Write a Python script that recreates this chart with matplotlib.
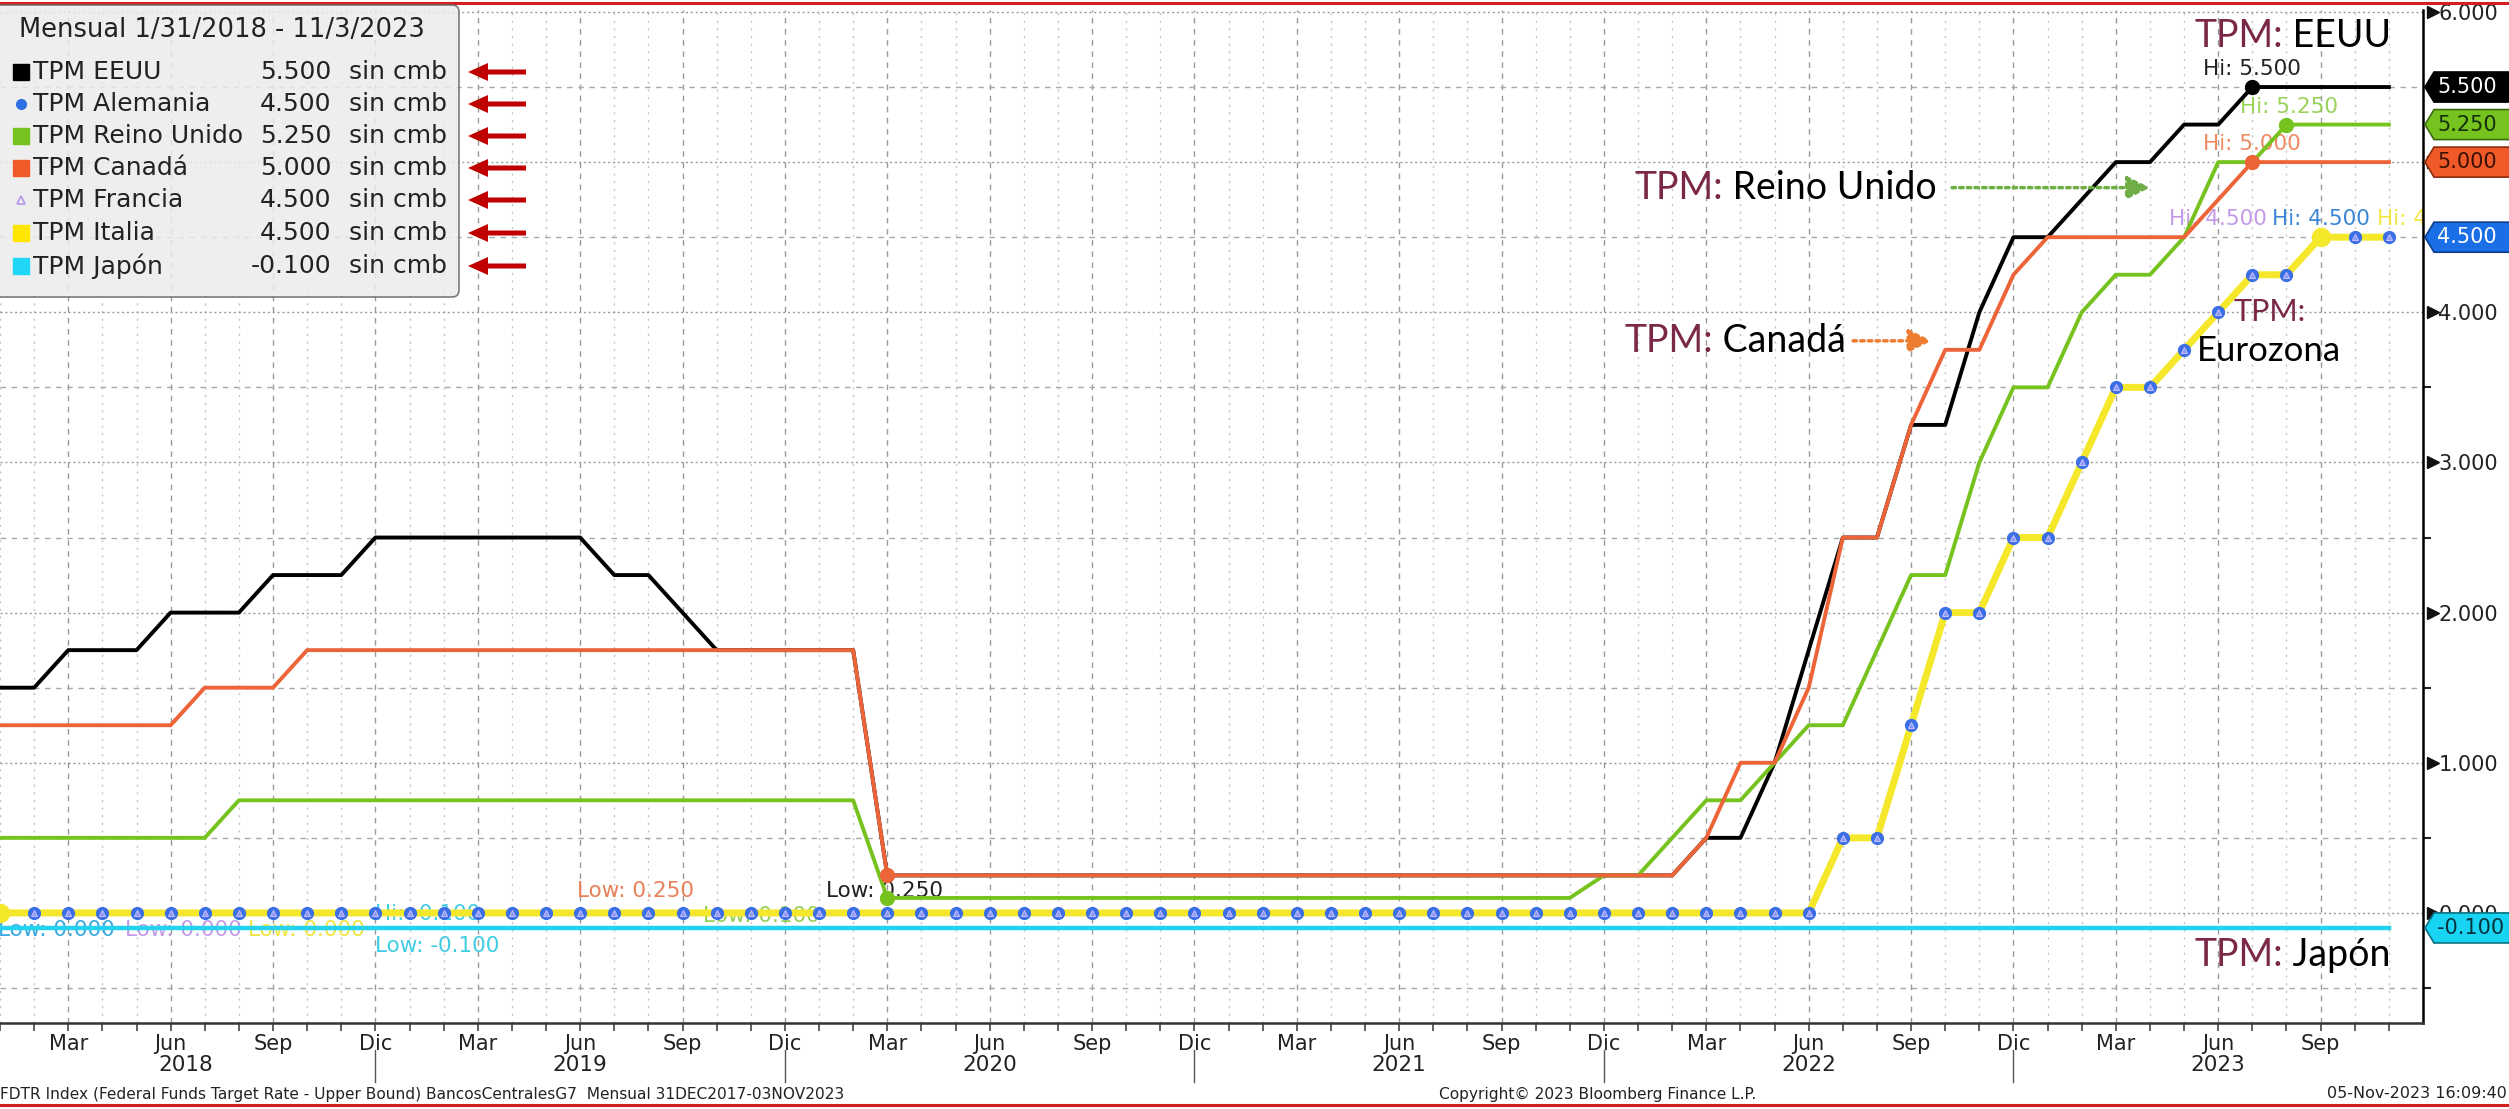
import numpy as np
import matplotlib.pyplot as plt
from matplotlib.patches import FancyBboxPatch, Polygon, FancyArrow
from matplotlib.lines import Line2D
from matplotlib.transforms import IdentityTransform

W, H = 2509, 1109
plt.rcParams['font.family'] = ['DejaVu Sans']

# ---------------- datos: TPM fin de mes, ene-2018 ... nov-2023 ----------------
tpm_eeuu = [1.50, 1.50, 1.75, 1.75, 1.75, 2.00, 2.00, 2.00, 2.25, 2.25, 2.25, 2.50,
            2.50, 2.50, 2.50, 2.50, 2.50, 2.50, 2.25, 2.25, 2.00, 1.75, 1.75, 1.75,
            1.75, 1.75, 0.25, 0.25, 0.25, 0.25, 0.25, 0.25, 0.25, 0.25, 0.25, 0.25,
            0.25, 0.25, 0.25, 0.25, 0.25, 0.25, 0.25, 0.25, 0.25, 0.25, 0.25, 0.25,
            0.25, 0.25, 0.50, 0.50, 1.00, 1.75, 2.50, 2.50, 3.25, 3.25, 4.00, 4.50,
            4.50, 4.75, 5.00, 5.00, 5.25, 5.25, 5.50, 5.50, 5.50, 5.50, 5.50]
tpm_canada = [1.25, 1.25, 1.25, 1.25, 1.25, 1.25, 1.50, 1.50, 1.50, 1.75, 1.75, 1.75,
              1.75, 1.75, 1.75, 1.75, 1.75, 1.75, 1.75, 1.75, 1.75, 1.75, 1.75, 1.75,
              1.75, 1.75, 0.25, 0.25, 0.25, 0.25, 0.25, 0.25, 0.25, 0.25, 0.25, 0.25,
              0.25, 0.25, 0.25, 0.25, 0.25, 0.25, 0.25, 0.25, 0.25, 0.25, 0.25, 0.25,
              0.25, 0.25, 0.50, 1.00, 1.00, 1.50, 2.50, 2.50, 3.25, 3.75, 3.75, 4.25,
              4.50, 4.50, 4.50, 4.50, 4.50, 4.75, 5.00, 5.00, 5.00, 5.00, 5.00]
tpm_reino_unido = [0.50, 0.50, 0.50, 0.50, 0.50, 0.50, 0.50, 0.75, 0.75, 0.75, 0.75, 0.75,
                   0.75, 0.75, 0.75, 0.75, 0.75, 0.75, 0.75, 0.75, 0.75, 0.75, 0.75, 0.75,
                   0.75, 0.75, 0.10, 0.10, 0.10, 0.10, 0.10, 0.10, 0.10, 0.10, 0.10, 0.10,
                   0.10, 0.10, 0.10, 0.10, 0.10, 0.10, 0.10, 0.10, 0.10, 0.10, 0.10, 0.25,
                   0.25, 0.50, 0.75, 0.75, 1.00, 1.25, 1.25, 1.75, 2.25, 2.25, 3.00, 3.50,
                   3.50, 4.00, 4.25, 4.25, 4.50, 5.00, 5.00, 5.25, 5.25, 5.25, 5.25]
tpm_alemania = [0.00, 0.00, 0.00, 0.00, 0.00, 0.00, 0.00, 0.00, 0.00, 0.00, 0.00, 0.00,
                0.00, 0.00, 0.00, 0.00, 0.00, 0.00, 0.00, 0.00, 0.00, 0.00, 0.00, 0.00,
                0.00, 0.00, 0.00, 0.00, 0.00, 0.00, 0.00, 0.00, 0.00, 0.00, 0.00, 0.00,
                0.00, 0.00, 0.00, 0.00, 0.00, 0.00, 0.00, 0.00, 0.00, 0.00, 0.00, 0.00,
                0.00, 0.00, 0.00, 0.00, 0.00, 0.00, 0.50, 0.50, 1.25, 2.00, 2.00, 2.50,
                2.50, 3.00, 3.50, 3.50, 3.75, 4.00, 4.25, 4.25, 4.50, 4.50, 4.50]
tpm_francia = list(tpm_alemania)
tpm_italia = list(tpm_alemania)
tpm_japon = [-0.10] * 71

meses_trim = ['Mar', 'Jun', 'Sep', 'Dic']
anios = ['2018', '2019', '2020', '2021', '2022', '2023']
pos_anios = [5.45, 17, 29, 41, 53, 65]

leyenda = [('TPM EEUU', '5.500', '#000000', 's'),
           ('TPM Alemania', '4.500', '#2f6fe4', 'o'),
           ('TPM Reino Unido', '5.250', '#76c21e', 's'),
           ('TPM Canadá', '5.000', '#f05a28', 's'),
           ('TPM Francia', '4.500', '#b89ce8', '^'),
           ('TPM Italia', '4.500', '#ffe600', 's'),
           ('TPM Japón', '-0.100', '#1fd6f5', 's')]

C_EEUU, C_ALE, C_RU, C_CAN = '#000000', '#3b6fe6', '#76c21e', '#ec6437'
C_FRA, C_ITA, C_JAP = '#b89ce8', '#f5e82a', '#22d2ee'
MARRON = '#7a2748'

x = np.arange(len(tpm_eeuu))


def fx(px):
    return px / W


def fy(py):
    return 1 - py / H


fig = plt.figure(figsize=(W / 100, H / 100), dpi=100)
ax = fig.add_axes([0, 1 - 1023 / H, 2423 / W, 1013 / H])
ax.set_xlim(0.158, 71.0)
ax.set_ylim(-0.733, 6.013)

# ---------------- series ----------------
ax.plot(x, tpm_japon, color=C_JAP, lw=3.2, zorder=3)
ax.plot(x, tpm_francia, color=C_FRA, lw=1.5, zorder=3.1)
ax.plot(x, tpm_italia, color=C_ITA, lw=5, zorder=3.2)
ax.plot(x, tpm_alemania, ls='none', marker='o', ms=8.5, color=C_ALE, zorder=3.3)
ax.plot(x, tpm_francia, ls='none', marker='^', ms=4.5, mfc='#7d9cf7', mec='#c9b8ff', mew=0.8, zorder=3.4)
ax.plot(x, tpm_eeuu, color=C_EEUU, lw=2.8, zorder=3.5)
ax.plot(x, tpm_reino_unido, color=C_RU, lw=2.8, zorder=3.6)
ax.plot(x, tpm_canada, color=C_CAN, lw=2.8, zorder=3.7)

# puntos de maximos / minimos
i_hi_eeuu = int(np.argmax(tpm_eeuu))
i_hi_ru = int(np.argmax(tpm_reino_unido))
i_hi_can = int(np.argmax(tpm_canada))
i_hi_ita = int(np.argmax(tpm_italia))
ax.plot(x[i_hi_eeuu], tpm_eeuu[i_hi_eeuu], 'o', color=C_EEUU, ms=10, zorder=6)
ax.plot(x[i_hi_ru], tpm_reino_unido[i_hi_ru], 'o', color=C_RU, ms=10, zorder=6)
ax.plot(x[i_hi_can], tpm_canada[i_hi_can], 'o', color=C_CAN, ms=10, zorder=6)
ax.plot(x[i_hi_ita], tpm_italia[i_hi_ita], 'o', color=C_ITA, ms=13, zorder=6)
ax.plot(x[26], tpm_canada[26], 'o', color=C_CAN, ms=10, zorder=6)
ax.plot(x[26], tpm_reino_unido[26], 'o', color=C_RU, ms=10, zorder=6)
ax.plot(x[0], tpm_italia[0], 'o', color=C_ITA, ms=13, zorder=6)

# etiquetas Hi / Low (posiciones en meses y tasa)
etiquetas_hi = [('Hi: 5.500', 66.0, 5.62, '#222222', 'center'),
                ('Hi: 5.250', 67.06, 5.37, '#9bd35a', 'center'),
                ('Hi: 5.000', 66.0, 5.12, '#ef8a63', 'center'),
                ('Hi: 4.500', 65.0, 4.62, '#c49ae8', 'center'),
                ('Hi: 4.500', 68.0, 4.62, '#3d86d6', 'center'),
                ('Hi: 4.500', 69.66, 4.62, '#f2e640', 'left')]
etiquetas_low = [('Low: 0.000', -0.05, -0.113, '#3aa7e0'),
                 ('Low: 0.000', 3.67, -0.113, '#c49ae8'),
                 ('Low: 0.000', 7.26, -0.113, '#f2e640'),
                 ('Hi: -0.100', 11.0, -0.005, '#40cde3'),
                 ('Low: -0.100', 11.0, -0.22, '#40cde3'),
                 ('Low: 0.250', 16.9, 0.147, '#e8805c'),
                 ('Low: 0.100', 20.6, -0.02, '#95cf55'),
                 ('Low: 0.250', 24.2, 0.147, '#222222')]
for txt, xi, yi, col, ha in etiquetas_hi:
    ax.text(xi, yi, txt, color=col, fontsize=15.5, ha=ha, va='center', zorder=2.5, clip_on=True)
for txt, xi, yi, col in etiquetas_low:
    ax.text(xi, yi, txt, color=col, fontsize=15.5, ha='left', va='center', zorder=2.5, clip_on=True)


# etiquetas grandes
def etiqueta(xi, yi, resto, size=27):
    t = ax.text(xi, yi, 'TPM:', color=MARRON, fontsize=size, family='Lato', ha='left', va='center', zorder=8)
    ax.annotate(' ' + resto, xy=(1, 0.5), xycoords=t, color='black', fontsize=size, family='Lato',
                ha='left', va='center', zorder=8)


etiqueta(64.3, 5.84, 'EEUU')
etiqueta(47.9, 4.83, 'Reino Unido')
etiqueta(47.6, 3.81, 'Canadá')
etiqueta(64.3, -0.28, 'Japón')
ax.text(66.5, 4.0, 'TPM:', color=MARRON, fontsize=22, family='Lato', ha='center', va='center', zorder=8)
ax.text(66.5, 3.74, 'Eurozona', color='black', fontsize=25, family='Lato', ha='center', va='center', zorder=8)
ax.annotate('', xy=(63.0, 4.83), xytext=(57.2, 4.83), zorder=8,
            arrowprops=dict(arrowstyle='-|>,head_length=0.7,head_width=0.35', color='#70ad47',
                            lw=2.5, ls=(0, (1, 1.2)), shrinkA=0, shrinkB=0, mutation_scale=20))
ax.annotate('', xy=(56.6, 3.81), xytext=(54.3, 3.81), zorder=8,
            arrowprops=dict(arrowstyle='-|>,head_length=0.7,head_width=0.35', color='#ed7d31',
                            lw=2.5, ls=(0, (1, 1.2)), shrinkA=0, shrinkB=0, mutation_scale=20))

# ---------------- ejes ----------------
trim = list(range(2, 71, 3))
ax.set_xticks(trim)
ax.set_xticklabels([meses_trim[k % 4] for k in range(len(trim))])
ax.set_xticks(x, minor=True)
ax.tick_params(axis='x', which='both', direction='out', length=6, width=1.2, color='#444444',
               labelsize=15, labelcolor='#222222', pad=2)
for a, p in zip(anios, pos_anios):
    ax.text(p, -0.041, a, transform=ax.get_xaxis_transform(), ha='center', va='center',
            fontsize=15.5, color='#222222')
for k in range(5):
    ax.plot([11 + 12 * k] * 2, [-0.027, -0.058], transform=ax.get_xaxis_transform(),
            color='#555555', lw=1, clip_on=False)

yt = [0, 1, 2, 3, 4, 5, 6]
ax.yaxis.tick_right()
ax.set_yticks(yt)
ax.set_yticklabels(['%.3f' % v for v in yt])
ax.set_yticks(np.arange(-0.5, 6.0, 1.0), minor=True)
ax.tick_params(axis='y', which='major', length=0, pad=11, labelsize=15, labelcolor='#222222')
ax.tick_params(axis='y', which='minor', direction='out', length=6, width=1.5, color='#222222')
ax.plot([1.004] * len(yt), yt, ls='none', marker='>', ms=8, color='#111111',
        transform=ax.get_yaxis_transform(), clip_on=False, zorder=9)

ax.grid(axis='x', which='major', color='#9a9a9a', ls=(0, (4, 4)), lw=1)
ax.grid(axis='x', which='minor', color='#c4c4c4', ls=(0, (1.5, 4)), lw=1)
ax.grid(axis='y', which='major', color='#9a9a9a', ls=(0, (1.5, 2)), lw=1)
ax.grid(axis='y', which='minor', color='#a8a8a8', ls=(0, (4, 4)), lw=1)
ax.set_axisbelow(True)
for s in ['left', 'top']:
    ax.spines[s].set_visible(False)
ax.spines['right'].set_linewidth(1.8)
ax.spines['bottom'].set_linewidth(1.8)
ax.spines['bottom'].set_color('#333333')

# valores actuales en el eje derecho
ultimos = [(tpm_eeuu[-1], '#000000', '#ffffff', '#000000'),
           (tpm_reino_unido[-1], '#76c21e', '#15300a', '#3c6a10'),
           (tpm_canada[-1], '#f05a28', '#3a1000', '#8a2c0c'),
           (tpm_alemania[-1], '#1a6fe6', '#ffffff', '#0c3d8a'),
           (tpm_japon[-1], '#18d4f2', '#06333d', '#0a6f80')]
px_ax = 1 / 2423.0
for val, fc, tc, ec in ultimos:
    h = 0.1
    pts = [[1 + 2 * px_ax, val], [1 + 11 * px_ax, val + h], [1 + 110 * px_ax, val + h],
           [1 + 110 * px_ax, val - h], [1 + 11 * px_ax, val - h]]
    ax.add_patch(Polygon(pts, closed=True, fc=fc, ec=ec, lw=1.2, transform=ax.get_yaxis_transform(),
                         clip_on=False, zorder=10))
    ax.text(1 + 14 * px_ax, val, '%.3f' % val, color=tc, fontsize=15, ha='left', va='center',
            transform=ax.get_yaxis_transform(), zorder=11, clip_on=False)

# ---------------- leyenda ----------------
fig.add_artist(FancyBboxPatch((-10, H - 297), 469, 292, boxstyle='round,pad=0,rounding_size=7',
                              transform=IdentityTransform(), fc='#ebebeb', ec='#666666', lw=1.2,
                              alpha=0.85, zorder=20))
fig.text(fx(19), fy(30), 'Mensual 1/31/2018 - 11/3/2023', fontsize=18.5, color='#222222',
         ha='left', va='center', zorder=21)
filas = [72, 104, 136, 168, 200, 233, 266]
for (nombre, valor, col, mk), py in zip(leyenda, filas):
    if mk == 's':
        fig.add_artist(Line2D([fx(21)], [fy(py)], marker='s', ms=11, color=col, ls='none',
                              transform=fig.transFigure, zorder=21))
    elif mk == 'o':
        fig.add_artist(Line2D([fx(21)], [fy(py)], marker='o', ms=7, color=col, ls='none',
                              transform=fig.transFigure, zorder=21))
    else:
        fig.add_artist(Line2D([fx(21)], [fy(py)], marker='^', ms=6, mfc='none', mec=col, mew=1.3,
                              ls='none', transform=fig.transFigure, zorder=21))
    fig.text(fx(33), fy(py), nombre, fontsize=18, color='#222222', ha='left', va='center', zorder=21)
    fig.text(fx(331), fy(py), valor, fontsize=18, color='#222222', ha='right', va='center', zorder=21)
    fig.text(fx(349), fy(py), 'sin cmb', fontsize=18, color='#222222', ha='left', va='center', zorder=21)
    fig.add_artist(FancyArrow(526, H - py, -58, 0, width=5, head_width=18, head_length=20,
                              length_includes_head=True, color='#c00000', lw=0,
                              transform=IdentityTransform(), zorder=22))

# ---------------- pie ----------------
fig.text(0, fy(1094), 'FDTR Index (Federal Funds Target Rate - Upper Bound) BancosCentralesG7  '
         'Mensual 31DEC2017-03NOV2023', fontsize=11.1, color='#222222', ha='left', va='center')
fig.text(fx(1598), fy(1094), 'Copyright© 2023 Bloomberg Finance L.P.', fontsize=11.1,
         color='#222222', ha='center', va='center')
fig.text(fx(2507), fy(1094), '05-Nov-2023 16:09:40', fontsize=11.5, color='#222222',
         ha='right', va='center')
fig.add_artist(Line2D([0, 1], [fy(3), fy(3)], color='#d21f1f', lw=2.2, transform=fig.transFigure))
fig.add_artist(Line2D([0, 1], [fy(1105), fy(1105)], color='#d21f1f', lw=2.2, transform=fig.transFigure))

fig.savefig('out.png', dpi=100)
